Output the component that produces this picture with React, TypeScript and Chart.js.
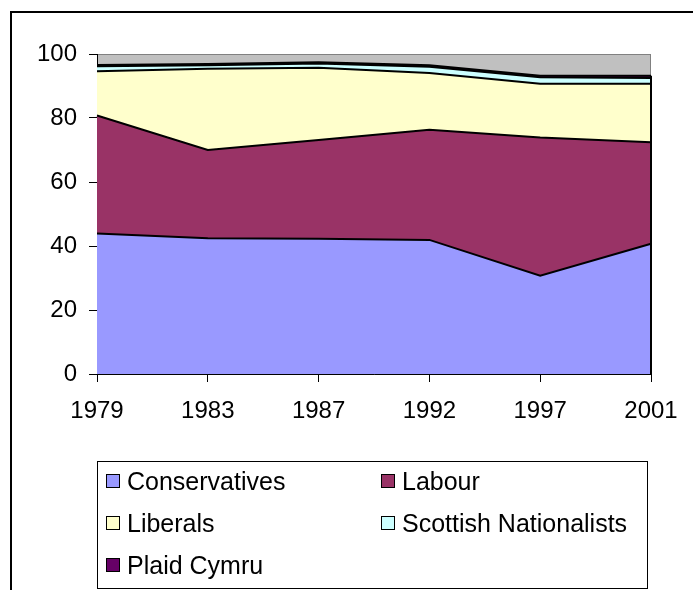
import React, { useEffect, useRef } from "react";
import { Chart, registerables } from "chart.js";

Chart.register(...registerables);

const years = ["1979", "1983", "1987", "1992", "1997", "2001"];
const conservatives = [43.9, 42.4, 42.3, 41.9, 30.7, 40.7];
const labour = [36.9, 27.6, 30.8, 34.4, 43.2, 31.7];
const liberals = [13.8, 25.4, 22.6, 17.8, 16.8, 18.3];
const scottishNationalists = [1.6, 1.1, 1.3, 1.9, 2.0, 1.8];
const plaidCymru = [0.4, 0.4, 0.4, 0.5, 0.5, 0.7];

const seriesNames = ["Conservatives", "Labour", "Liberals", "Scottish Nationalists", "Plaid Cymru"];
const seriesColors = ["#9999FF", "#993366", "#FFFFCC", "#CCFFFF", "#660066"];
const seriesData = [conservatives, labour, liberals, scottishNationalists, plaidCymru];

const yTicksMin = 0;
const yTicksMax = 100;
const yTickStep = 20;

const FONT = '"Liberation Sans", Arial, sans-serif';

const plotAreaPlugin = {
  id: "plotArea",
  beforeDraw(chart: any) {
    const { ctx, chartArea } = chart;
    ctx.save();
    ctx.fillStyle = "#C0C0C0";
    ctx.fillRect(chartArea.left, chartArea.top, chartArea.right - chartArea.left, chartArea.bottom - chartArea.top);
    ctx.strokeStyle = "#808080";
    ctx.lineWidth = 1;
    ctx.strokeRect(chartArea.left + 0.5, chartArea.top + 0.5, chartArea.right - chartArea.left - 1, chartArea.bottom - chartArea.top);
    ctx.restore();
  },
};

const rightEdgePlugin = {
  id: "rightEdge",
  afterDatasetsDraw(chart: any) {
    const n = chart.data.datasets.length;
    const meta = chart.getDatasetMeta(n - 1);
    const pts = meta.data;
    if (!pts.length) return;
    const last = pts[pts.length - 1];
    const yScale = chart.scales.y;
    const { ctx } = chart;
    ctx.save();
    ctx.strokeStyle = "#000";
    ctx.lineWidth = 2;
    ctx.beginPath();
    ctx.moveTo(last.x, yScale.getPixelForValue(0));
    ctx.lineTo(last.x, last.y);
    ctx.stroke();
    ctx.restore();
  },
};

export default function App() {
  const canvasRef = useRef<HTMLCanvasElement>(null);

  useEffect(() => {
    const canvas = canvasRef.current;
    if (!canvas) return;
    const chart = new Chart(canvas, {
      type: "line",
      data: {
        labels: years,
        datasets: seriesData.map((d, i) => ({
          label: seriesNames[i],
          data: d,
          backgroundColor: seriesColors[i],
          borderColor: "#000000",
          borderWidth: 2,
          pointRadius: 0,
          tension: 0,
          fill: i === 0 ? "origin" : "-1",
        })),
      },
      options: {
        animation: false,
        responsive: false,
        devicePixelRatio: 1,
        layout: { padding: { left: 37, right: 42, top: 54, bottom: 166 } },
        plugins: {
          legend: { display: false },
          tooltip: { enabled: false },
        },
        scales: {
          x: {
            offset: false,
            grid: {
              display: true,
              drawOnChartArea: false,
              drawTicks: true,
              tickLength: 8,
              color: "#000000",
            },
            border: { display: true, color: "#000000", width: 1 },
            ticks: {
              color: "#000000",
              font: { family: FONT, size: 24 },
              padding: 15,
              maxRotation: 0,
              autoSkip: false,
            },
            afterFit(scale: any) {
              scale.height = 50;
            },
          },
          y: {
            stacked: true,
            min: yTicksMin,
            max: yTicksMax,
            grid: {
              display: true,
              drawOnChartArea: false,
              drawTicks: true,
              tickLength: 8,
              color: "#000000",
            },
            border: { display: true, color: "#000000", width: 1 },
            ticks: {
              stepSize: yTickStep,
              color: "#000000",
              font: { family: FONT, size: 24 },
              padding: 12,
            },
            afterFit(scale: any) {
              scale.width = 60;
            },
          },
        },
      },
      plugins: [plotAreaPlugin, rightEdgePlugin],
    });
    return () => chart.destroy();
  }, []);

  const rowTop = 460;
  const rowH = 42;
  const cols = [106, 381];

  return (
    <div style={{ position: "fixed", left: 0, top: 0, width: 693, height: 590, background: "#fff", overflow: "hidden" }}>
      <div
        style={{
          position: "absolute",
          left: 10,
          top: 11,
          width: 800,
          height: 800,
          border: "2px solid #000",
          boxSizing: "border-box",
        }}
      />
      <canvas ref={canvasRef} width={693} height={590} style={{ position: "absolute", left: 0, top: 0 }} />
      <div
        style={{
          position: "absolute",
          left: 97,
          top: 461,
          width: 551,
          height: 128,
          border: "1px solid #000",
          boxSizing: "border-box",
        }}
      />
      {seriesNames.map((name, i) => {
        const col = i % 2;
        const row = Math.floor(i / 2);
        return (
          <div
            key={name}
            style={{
              position: "absolute",
              left: cols[col],
              top: rowTop + row * rowH,
              height: rowH,
              display: "flex",
              alignItems: "center",
              fontFamily: FONT,
              fontSize: 25,
              color: "#000",
              whiteSpace: "nowrap",
            }}
          >
            <span
              style={{
                display: "inline-block",
                width: 14,
                height: 14,
                boxSizing: "border-box",
                border: "1.5px solid #000",
                background: seriesColors[i],
                marginRight: 7,
              }}
            />
            <span>{name}</span>
          </div>
        );
      })}
    </div>
  );
}
